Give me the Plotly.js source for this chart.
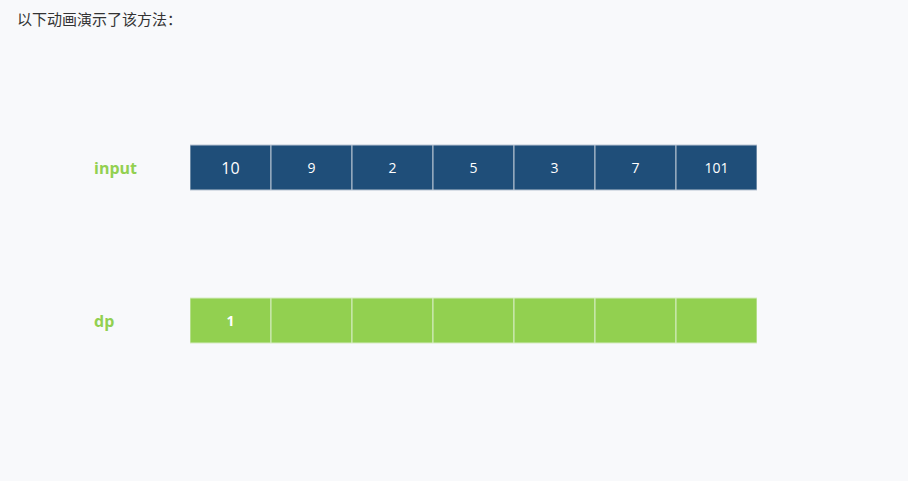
<!DOCTYPE html>
<html>
<head>
<meta charset="utf-8">
<script src="https://cdn.plot.ly/plotly-3.0.1.min.js"></script>
<style>html,body{margin:0;padding:0;background:#f8f9fb;}</style>
</head>
<body>
<div id="chart" style="width:908px;height:481px;"></div>
<script>
const positions = [0, 1, 2, 3, 4, 5, 6];
const inputValues = ['10', '9', '2', '5', '3', '7', '101'];
const dpValues = ['1', '', '', '', '', '', ''];
const rowLabels = ['input', 'dp'];

const cellH = 0.294;
const ones = positions.map(() => cellH);

const traces = [
  {
    type: 'bar', x: positions, y: ones, base: positions.map(() => 1 - cellH / 2),
    width: 1, text: inputValues, textposition: 'inside', insidetextanchor: 'middle',
    textfont: { color: '#ffffff', family: 'Open Sans', size: inputValues.map((v, i) => i === 0 ? 16 : 14) },
    marker: { color: '#1f4e79', line: { color: '#b8c4d2', width: 1 } },
    hoverinfo: 'skip', cliponaxis: false
  },
  {
    type: 'bar', x: positions, y: ones, base: positions.map(() => 0 - cellH / 2),
    width: 1, text: dpValues, textposition: 'inside', insidetextanchor: 'middle',
    textfont: { color: '#ffffff', family: 'Open Sans', size: 14, weight: 700 },
    marker: { color: '#92d050', line: { color: '#d6ecc2', width: 1 } },
    hoverinfo: 'skip', cliponaxis: false
  }
];

const layout = {
  width: 908, height: 481,
  paper_bgcolor: '#f8f9fb', plot_bgcolor: '#f8f9fb',
  margin: { l: 0, r: 0, t: 0, b: 0 },
  showlegend: false, barmode: 'overlay', uniformtext: { mode: false },
  xaxis: { domain: [190 / 908, 757 / 908], range: [-0.5, 6.5], visible: false, fixedrange: true },
  yaxis: { range: [-1.049, 2.095], visible: false, fixedrange: true },
  annotations: [
    { text: '以下动画演示了该方法：', xref: 'paper', yref: 'paper', x: 15 / 908, y: 1 - 18 / 481,
      xanchor: 'left', yanchor: 'middle', showarrow: false,
      font: { family: 'Noto Sans CJK SC', size: 15, color: '#333333' } },
    { text: '<b>' + rowLabels[0] + '</b>', xref: 'paper', yref: 'y', x: 92 / 908, y: 1,
      xanchor: 'left', yanchor: 'middle', showarrow: false,
      font: { family: 'Open Sans', size: 16, color: '#92d050' } },
    { text: '<b>' + rowLabels[1] + '</b>', xref: 'paper', yref: 'y', x: 92 / 908, y: 0,
      xanchor: 'left', yanchor: 'middle', showarrow: false,
      font: { family: 'Open Sans', size: 16, color: '#92d050' } }
  ]
};

Plotly.newPlot('chart', traces, layout, { displayModeBar: false, staticPlot: true });
</script>
</body>
</html>
